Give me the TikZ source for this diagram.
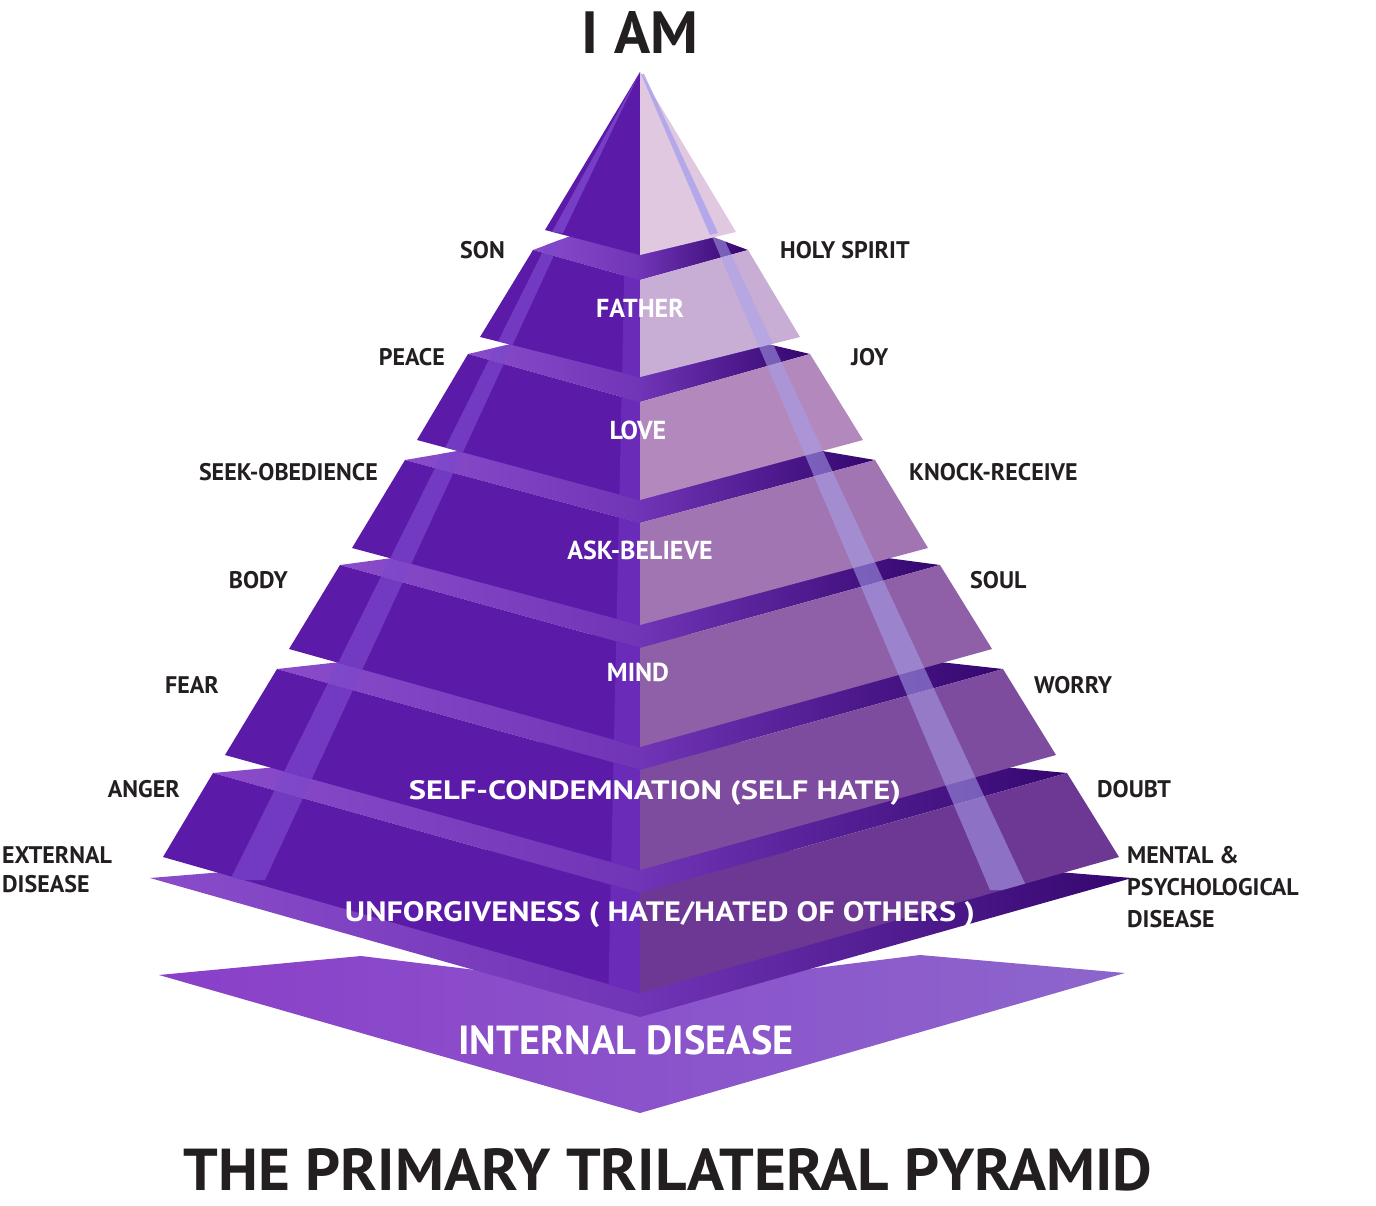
\documentclass[tikz,border=0pt]{standalone}
\usepackage{fontspec}
\setmainfont{PT Sans}
\usepackage{graphicx}
\definecolor{ink}{HTML}{231F20}
\definecolor{lface}{HTML}{5C1AA8}
\definecolor{ledgeA}{HTML}{8A4CCA}
\definecolor{ledgeB}{HTML}{7034B6}
\definecolor{rledgeA}{HTML}{7034B6}
\definecolor{rledgeB}{HTML}{34066E}
\definecolor{arA}{HTML}{8A3FC9}
\definecolor{arB}{HTML}{8C66CC}
\definecolor{lstripe}{HTML}{7C48CC}
\definecolor{rstripe}{HTML}{A8A0EC}
\definecolor{cstripe}{HTML}{6A2CB8}
\definecolor{rf0}{HTML}{E0C8E0}
\definecolor{rf1}{HTML}{C8AED4}
\definecolor{rf2}{HTML}{B388BC}
\definecolor{rf3}{HTML}{A174B2}
\definecolor{rf4}{HTML}{8F60A8}
\definecolor{rf5}{HTML}{7E4C9E}
\definecolor{rf6}{HTML}{6C3894}
\tikzset{
 lab/.style={font=\fontsize{24}{29}\selectfont\bfseries,text=ink,inner sep=0pt},
 inl/.style={font=\fontsize{26}{28}\selectfont\bfseries,text=white,inner sep=0pt},
}
\newcommand\tier[9]{%
 \shade[left color=ledgeA,right color=ledgeB] (#1,#2) -- (640,{#2-40}) -- (640,#5) -- cycle;
 \shade[left color=rledgeA,right color=rledgeB] (640,{#2-40}) -- (#7,#2) -- (640,#5) -- cycle;
 \fill[lface] (#1,#2) -- (640,#5) -- (640,#6) -- (#3,#4) -- cycle;
 \begin{scope}
  \clip (#1,#2) -- (640,#5) -- (640,#6) -- (#3,#4) -- cycle;
  \fill[cstripe] (640,60) -- (629,60) -- (608,1010) -- (640,1010) -- cycle;
 \end{scope}
 \begin{scope}
  \clip (#1,#2) -- (640,{#2-40}) -- (640,#6) -- (#3,#4) -- cycle;
  \fill[lstripe,opacity=.7] (556,225) -- (568,225) -- (265,880) -- (230,880) -- cycle;
 \end{scope}
 \fill[#9] (640,#5) -- (#7,#2) -- (#8,#4) -- (640,#6) -- cycle;
 \begin{scope}
  \clip (640,{#2-40}) -- (#7,#2) -- (#8,#4) -- (640,#6) -- cycle;
  \fill[rstripe,opacity=.55] (642,72) -- (646,72) -- (1028,890) -- (990,890) -- cycle;
 \end{scope}
}
\begin{document}
\begin{tikzpicture}[x=1pt,y=-1pt]
\useasboundingbox (0,0) rectangle (1376,1206);
% bottom arrow
\shade[left color=arA,right color=arB] (159,975) -- (361,956) -- (640,990) -- (920,955) -- (1125,973) -- (640,1113) -- cycle;
% base ledge
\shade[left color=ledgeA,right color=ledgeB] (150,878) -- (640,838) -- (640,1017) -- cycle;
\shade[left color=rledgeA,right color=rledgeB] (640,838) -- (1132,878) -- (640,1017) -- cycle;
\begin{scope}
 \clip (150,878) -- (640,838) -- (640,1017) -- cycle;
 \fill[lstripe,opacity=.7] (556,225) -- (568,225) -- (265,880) -- (230,880) -- cycle;
\end{scope}
% tiers bottom to top
\tier{213}{773}{163}{857}{893}{993}{1067}{1119}{rf6}
\tier{277}{669}{225}{755}{770}{870}{1003}{1056}{rf5}
\tier{340}{565}{289}{649}{648}{747}{940}{992}{rf4}
\tier{405}{460}{352}{548}{523}{625}{875}{928}{rf3}
\tier{468}{354}{417}{440}{402}{500}{810}{863}{rf2}
\tier{533}{250}{480}{337}{280}{377}{748}{800}{rf1}
% top
\fill[lface] (640,72) -- (545,230) -- (640,255) -- cycle;
\fill[lstripe,opacity=.8] (640,72) -- (552,232) -- (563,233) -- cycle;
\fill[rf0] (640,72) -- (736,232) -- (640,255) -- cycle;
\fill[rstripe,opacity=.8] (641,74) -- (710,235) -- (718,233) -- (644,74) -- cycle;
% inner texts
\node[inl] (t1) at (640,308) {FATHER};
\node[inl] (t2) at (638,430) {LOVE};
\node[inl] (t3) at (640,550) {ASK-BELIEVE};
\node[inl] (t4) at (638,672) {MIND};
\node[inl] (t5) at (655,793) {\resizebox{492pt}{19pt}{SELF-CONDEMNATION (SELF HATE)}};
\node[inl] (t6) at (660,915) {\resizebox{630pt}{20pt}{UNFORGIVENESS ( HATE/HATED OF OTHERS )}};
\node[inl] (t7) at (626,1040) {\resizebox{335pt}{29pt}{INTERNAL DISEASE}};
% side labels
\node[lab,anchor=east] (l1) at (505,250) {SON};
\node[lab,anchor=west] (r1) at (780,250) {HOLY SPIRIT};
\node[lab,anchor=east] (l2) at (445,357) {PEACE};
\node[lab,anchor=west] (r2) at (851,357) {JOY};
\node[lab,anchor=east] (l3) at (378,472) {SEEK-OBEDIENCE};
\node[lab,anchor=west] (r3) at (909,472) {KNOCK-RECEIVE};
\node[lab,anchor=east] (l4) at (288,580) {BODY};
\node[lab,anchor=west] (r4) at (970,580) {SOUL};
\node[lab,anchor=east] (l5) at (219,685) {FEAR};
\node[lab,anchor=west] (r5) at (1034,685) {WORRY};
\node[lab,anchor=east] (l6) at (180,789) {ANGER};
\node[lab,anchor=west] (r6) at (1097,789) {DOUBT};
\node[lab,anchor=north west,align=left] (l7) at (2,846) {EXTERNAL\\DISEASE};
\node[lab,anchor=north west,align=left,font=\fontsize{24}{32}\selectfont\bfseries] (r7) at (1127,846) {MENTAL \&\\PSYCHOLOGICAL\\DISEASE};
% titles
\node[lab] (iam) at (640,33) {\resizebox{116pt}{42pt}{I AM}};
\node[lab] (title) at (668,1170) {\resizebox{968pt}{42pt}{THE PRIMARY TRILATERAL PYRAMID}};
\end{tikzpicture}
\end{document}
